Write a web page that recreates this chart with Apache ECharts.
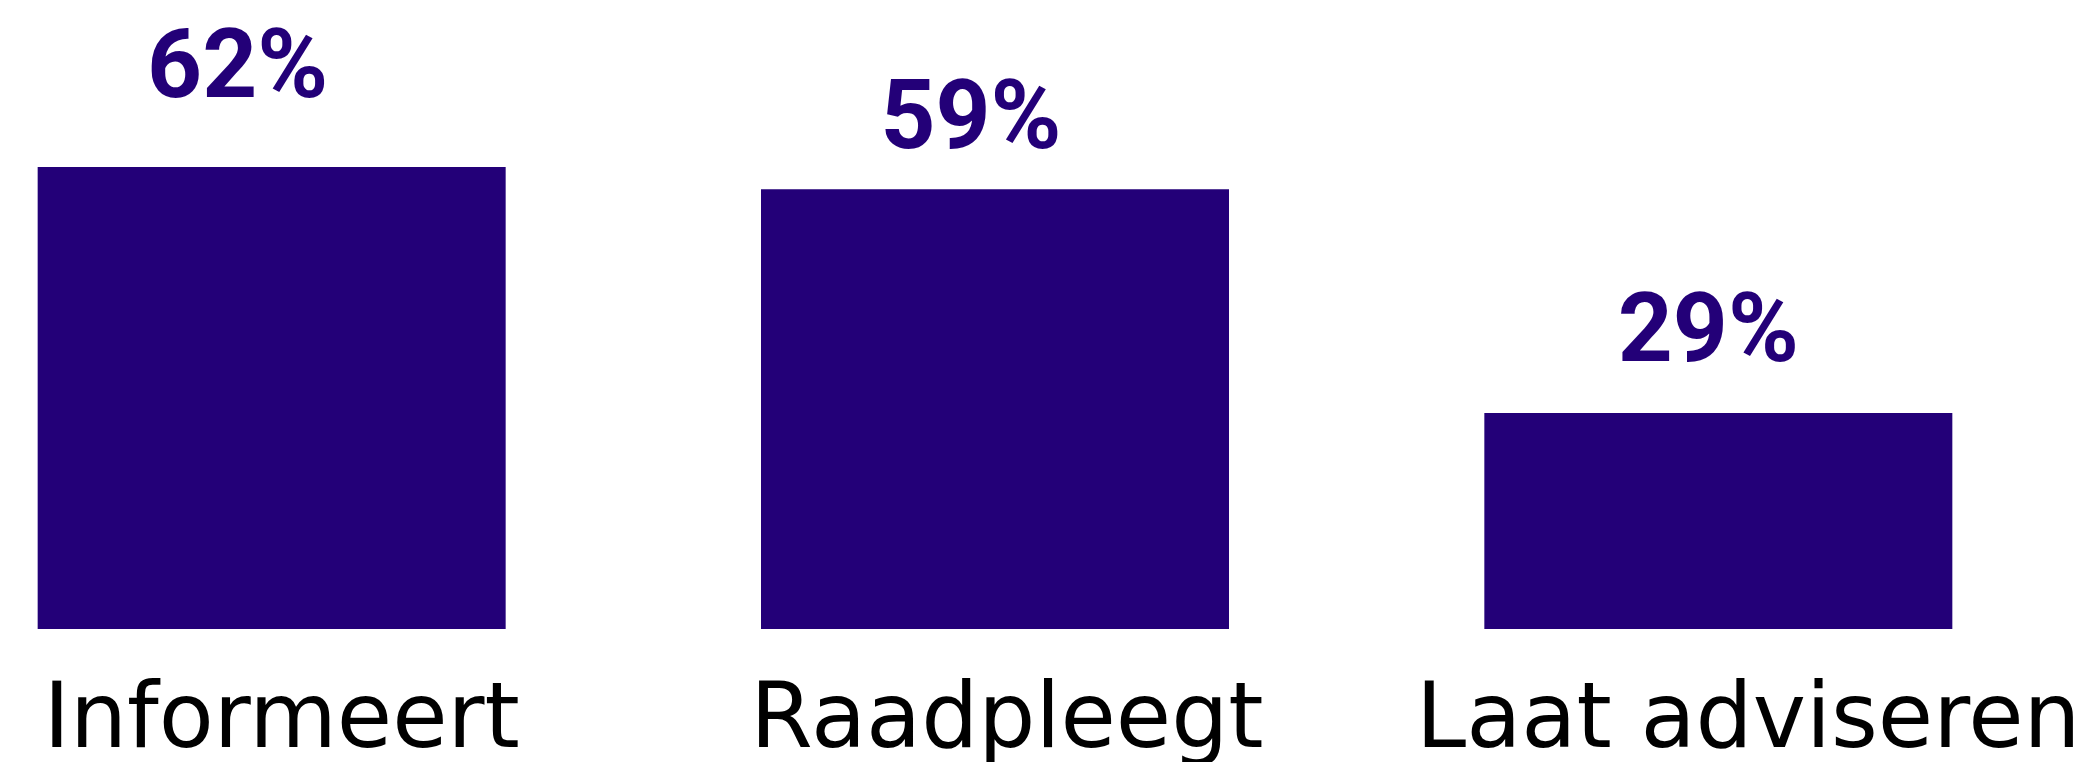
<!DOCTYPE html>
<html>
<head>
<meta charset="utf-8">
<script src="https://cdn.jsdelivr.net/npm/echarts@6/dist/echarts.min.js"></script>
<style>
  html, body { margin: 0; padding: 0; background: #fff; overflow: hidden; }
  /* the category bands reach past the left edge of the picture */
  #chart { width: 2182px; height: 762px; margin-left: -90px; }
</style>
</head>
<body>
<div id="chart"></div>
<script>
const categories = ['Informeert', 'Raadpleegt', 'Laat adviseren'];
const shares = [62, 59, 29];

// per-bar nudges of the labels, as they sit in the original
const labelShiftX = [-34, -24, -10];
const labelLift = [46, 17, 28];
const categoryShiftX = [10, 12, 30];

const chartDom = document.getElementById('chart');
const chart = echarts.init(chartDom);

const barColor = '#230078';

const data = shares.map((v, i) => ({
  value: v,
  label: {
    distance: labelLift[i],
    offset: [labelShiftX[i], 0]
  }
}));

const axisData = categories.map((name, i) => ({
  value: name,
  textStyle: { padding: [0, 0, 0, categoryShiftX[i] * 2] }
}));

const option = {
  animation: false,
  grid: {
    left: 0,
    right: 12,
    top: 167,
    bottom: 133,
    outerBoundsMode: 'none',
    containLabel: false
  },
  xAxis: {
    type: 'category',
    data: axisData,
    axisLine: { show: false },
    axisTick: { show: false },
    axisLabel: {
      interval: 0,
      hideOverlap: false,
      color: '#000',
      fontFamily: 'DejaVu Sans',
      fontSize: 90,
      margin: 50
    }
  },
  yAxis: {
    type: 'value',
    min: 0,
    max: 62,
    show: false
  },
  series: [{
    type: 'bar',
    data: data,
    barWidth: 468,
    itemStyle: { color: barColor },
    label: {
      show: true,
      position: 'top',
      formatter: '{c}%',
      color: barColor,
      fontFamily: 'Roboto',
      fontWeight: 'bold',
      fontSize: 96
    }
  }]
};

chart.setOption(option);
</script>
</body>
</html>
